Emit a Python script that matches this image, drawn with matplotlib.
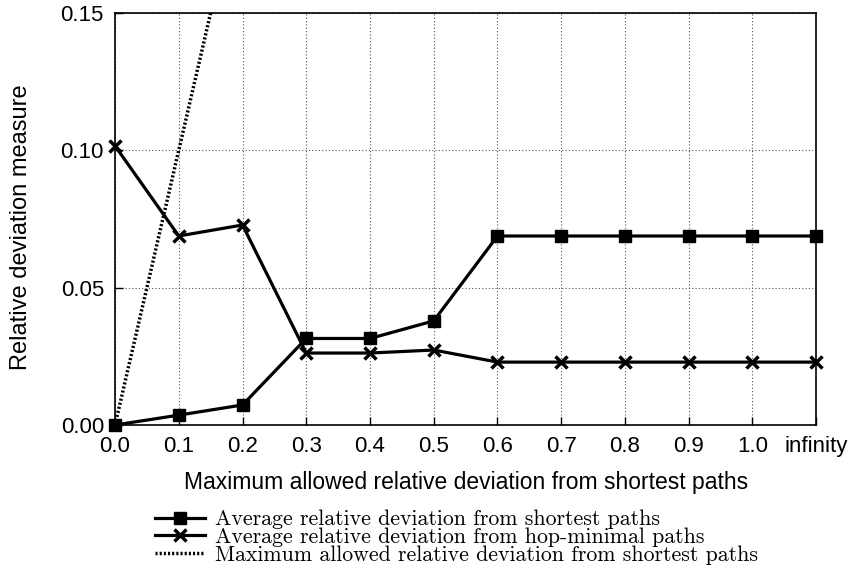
import numpy as np
import matplotlib
matplotlib.use("Agg")
import matplotlib.pyplot as plt

# data
x_labels = ["0.0", "0.1", "0.2", "0.3", "0.4", "0.5", "0.6", "0.7", "0.8", "0.9", "1.0", "infinity"]
avg_shortest = [0.0, 0.0036, 0.0073, 0.0315, 0.0315, 0.0379, 0.0688, 0.0688, 0.0688, 0.0688, 0.0688, 0.0688]
avg_hopmin = [0.1016, 0.0688, 0.0728, 0.0262, 0.0262, 0.0273, 0.0229, 0.0229, 0.0229, 0.0229, 0.0229, 0.0229]
max_allowed = [0.0, 0.1, 0.2, 0.3, 0.4, 0.5, 0.6, 0.7, 0.8, 0.9, 1.0]

sans = "Liberation Sans"
fs = 16

fig = plt.figure(figsize=(8.52, 5.86), dpi=100)
ax = fig.add_axes([0.135, 0.2747, 0.823, 0.7033])

xs = np.arange(len(x_labels))

l1, = ax.plot(xs, avg_shortest, color="black", linewidth=2.3, marker="s",
              markersize=8, clip_on=False, zorder=4)
l2, = ax.plot(xs, avg_hopmin, color="black", linewidth=2.3, marker="x",
              markersize=9, markeredgewidth=2.5, clip_on=False, zorder=4)
l3, = ax.plot(np.arange(len(max_allowed)), max_allowed, color="black",
              linewidth=2.5, linestyle=(0, (0.6, 0.6)), zorder=3)

ax.set_xlim(0, len(x_labels) - 1)
ax.set_ylim(0, 0.15)
ax.set_xticks(xs)
ax.set_xticklabels(x_labels)
ax.set_yticks([0.0, 0.05, 0.10, 0.15])
ax.set_yticklabels(["0.00", "0.05", "0.10", "0.15"])

ax.grid(True, color="#555555", linestyle=(0, (1, 2)), linewidth=0.8)
ax.tick_params(direction="in", length=6, width=1, labelsize=fs, pad=8)
for lab in ax.get_xticklabels() + ax.get_yticklabels():
    lab.set_family(sans)
for s in ax.spines.values():
    s.set_linewidth(1.2)

ax.set_xlabel("Maximum allowed relative deviation from shortest paths",
              fontsize=16.5, family=sans, labelpad=10)
ax.set_ylabel("Relative deviation measure", fontsize=17, family=sans)
ax.yaxis.set_label_coords(-0.118, 0.48)

fig.legend([l1, l2, l3],
           ["Average relative deviation from shortest paths",
            "Average relative deviation from hop-minimal paths",
            "Maximum allowed relative deviation from shortest paths"],
           loc="upper left", bbox_to_anchor=(0.182, 0.13), frameon=False,
           prop={"family": "cmr10", "size": 15.75}, handlelength=2.3,
           handletextpad=0.45, labelspacing=-0.08, borderpad=0, borderaxespad=0)

fig.savefig("out.png", dpi=100)
